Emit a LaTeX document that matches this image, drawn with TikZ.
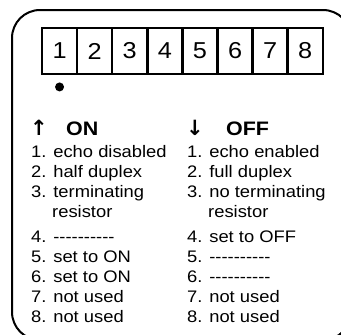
\documentclass[tikz,border=0pt]{standalone}
\usepackage{fontspec}
\setmainfont[FakeStretch=1.1]{Liberation Sans}
\newfontfamily\arrowfont{DejaVu Sans}
\usetikzlibrary{positioning}

\newcommand{\nodash}{-{}-{}-{}-{}-{}-{}-{}-{}-{}-{}}

\begin{document}
\begin{tikzpicture}
         [x=1pt,y=-1pt,
          cell/.style={draw,line width=2.5pt,minimum width=35.1pt,minimum height=46pt,
                       inner sep=0pt,font=\fontsize{23}{23}\selectfont},
          item/.style={anchor=base west,inner sep=0pt,font=\fontsize{16.7}{20}\selectfont},
          head/.style={anchor=base west,inner sep=0pt,font=\fontsize{19.5}{20}\selectfont\bfseries},
          arr/.style={anchor=base west,inner sep=0pt,font=\fontsize{21}{20}\arrowfont\bfseries}]
         \useasboundingbox (0,0) rectangle (341,335);
         \clip (0,0) rectangle (341,335);
         \draw[line width=2pt,rounded corners=28pt] (12,10) rectangle (351,340);

         % switch block
         \foreach \i in {1,...,8}
            \node[cell] (s\i) at (42+35.1*\i-17.55,51) {\i};
         \node[circle,fill,inner sep=0pt,minimum size=9pt,below=7pt of s1] (dot) {};

         % ON column
         \node[arr] (uparr) at (30,135) {↑};
         \node[head] (onhead) at (66,135) {ON};
         \node[item] (on1) at (31,157) {1. echo disabled};
         \node[item] (on2) at (31,177) {2. half duplex};
         \node[item] (on3) at (31,197) {3. terminating};
         \node[item] (onres) at (52,217) {resistor};
         \node[item] (on4) at (31,242) {4. \nodash};
         \node[item] (on5) at (31,262) {5. set to ON};
         \node[item] (on6) at (31,282) {6. set to ON};
         \node[item] (on7) at (31,302) {7. not used};
         \node[item] (on8) at (31,322) {8. not used};

         % OFF column
         \node[arr] (downarr) at (186,135) {↓};
         \node[head] (offhead) at (226,135) {OFF};
         \node[item] (off1) at (187,157) {1. echo enabled};
         \node[item] (off2) at (187,177) {2. full duplex};
         \node[item] (off3) at (187,197) {3. no terminating};
         \node[item] (offres) at (208,217) {resistor};
         \node[item] (off4) at (187,242) {4. set to OFF};
         \node[item] (off5) at (187,262) {5. \nodash};
         \node[item] (off6) at (187,282) {6. \nodash};
         \node[item] (off7) at (187,302) {7. not used};
         \node[item] (off8) at (187,322) {8. not used};
      \end{tikzpicture}
\end{document}
